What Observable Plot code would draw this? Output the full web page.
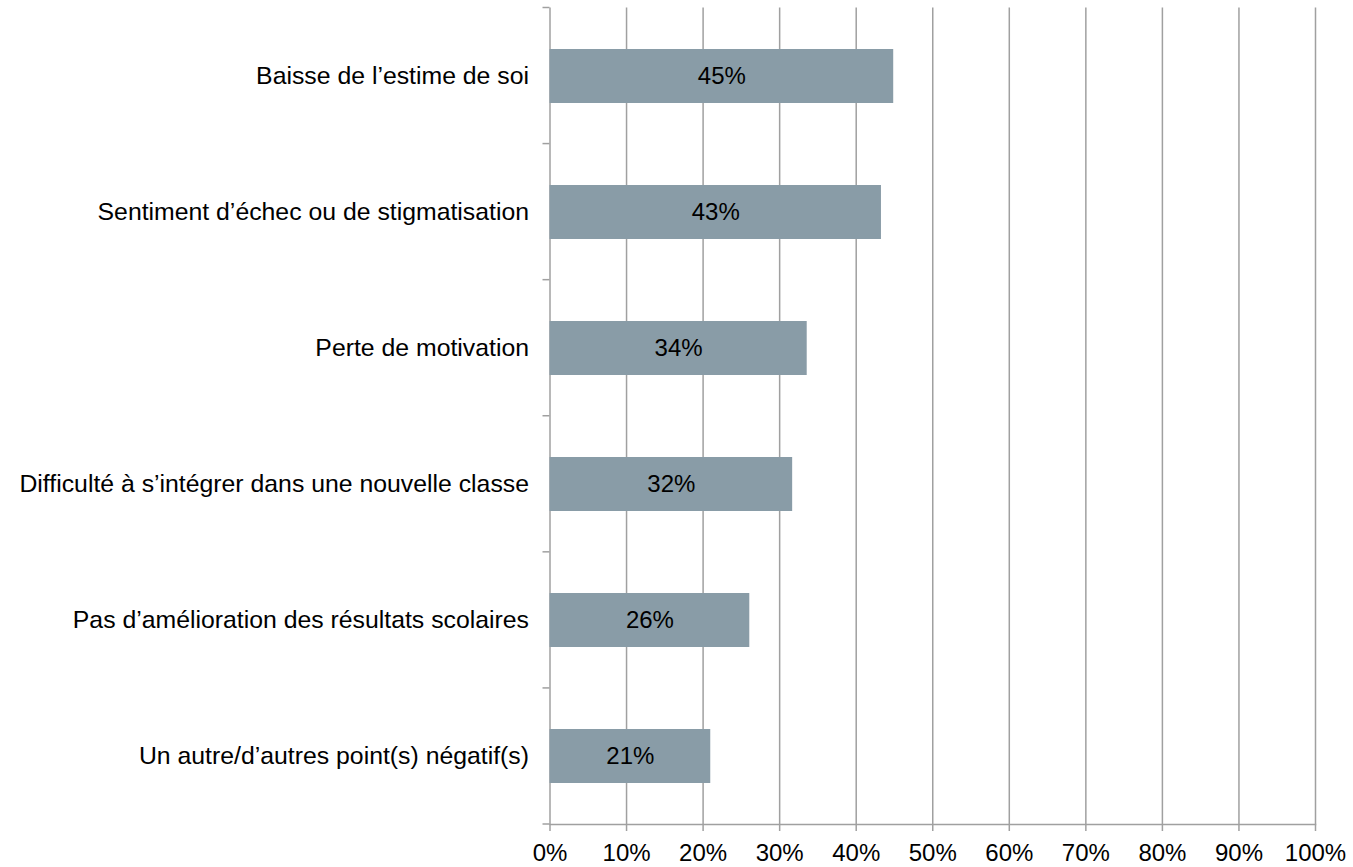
<!DOCTYPE html>
<html><head><meta charset="utf-8">
<script src="https://cdn.jsdelivr.net/npm/d3@7"></script>
<script src="https://cdn.jsdelivr.net/npm/@observablehq/plot@0.6"></script>
<style>
body{margin:0;background:#fff}
#chart{position:absolute;left:0;top:0}
</style>
</head><body><div id="chart"></div>
<script>
const categories = [
  "Baisse de l’estime de soi",
  "Sentiment d’échec ou de stigmatisation",
  "Perte de motivation",
  "Difficulté à s’intégrer dans une nouvelle classe",
  "Pas d’amélioration des résultats scolaires",
  "Un autre/d’autres point(s) négatif(s)"
];
const values = [0.449, 0.433, 0.336, 0.317, 0.261, 0.210];
const xTicks = [0, 0.1, 0.2, 0.3, 0.4, 0.5, 0.6, 0.7, 0.8, 0.9, 1];

const data = categories.map((c, i) => ({cat: c, v: values[i]}));
const GRID = "#a0a0a0";
const BAR = "#899ca7";
const FONT = 24;
const CAT_FONT = 24.8;

const boundaryTicks = (index, scales, vals, dims) => {
  const n = categories.length;
  const top = dims.marginTop, bottom = dims.height - dims.marginBottom;
  const x0 = scales.x(0);
  const g = d3.create("svg:g");
  for (let k = 0; k <= n; k++) {
    const y = top + (bottom - top) * k / n;
    g.append("line").attr("x1", x0 - 7).attr("x2", x0).attr("y1", y).attr("y2", y)
      .attr("stroke", GRID).attr("stroke-width", 1.5);
  }
  return g.node();
};

const chart = Plot.plot({
  width: 1353,
  height: 867,
  marginLeft: 549.5,
  marginRight: 38,
  marginTop: 7.5,
  marginBottom: 43,
  style: {fontFamily: "'Liberation Sans', Arial, sans-serif", fontSize: FONT + "px", color: "black", background: "white"},
  x: {domain: [0, 1]},
  y: {domain: categories, paddingInner: 0.6, paddingOuter: 0.3},
  marks: [
    Plot.gridX(xTicks, {stroke: GRID, strokeOpacity: 1, strokeWidth: 1.5}),
    Plot.barX(data, {x: "v", y: "cat", fill: BAR}),
    Plot.text(data, Plot.stackX({x: "v", y: "cat", text: d => Math.round(d.v * 100) + "%", fontSize: FONT, fill: "black"})),
    Plot.frame({anchor: "bottom", stroke: GRID, strokeWidth: 1.5}),
    boundaryTicks,
    Plot.axisX({ticks: xTicks, tickFormat: d3.format(".0%"), tickSize: 7, tickPadding: 12, fontSize: FONT, stroke: GRID, strokeWidth: 1.5, strokeOpacity: 1, label: null}),
    Plot.axisY({tickSize: 0, tickPadding: 21, fontSize: CAT_FONT, label: null})
  ]
});
document.getElementById("chart").appendChild(chart);
</script>
</body></html>
